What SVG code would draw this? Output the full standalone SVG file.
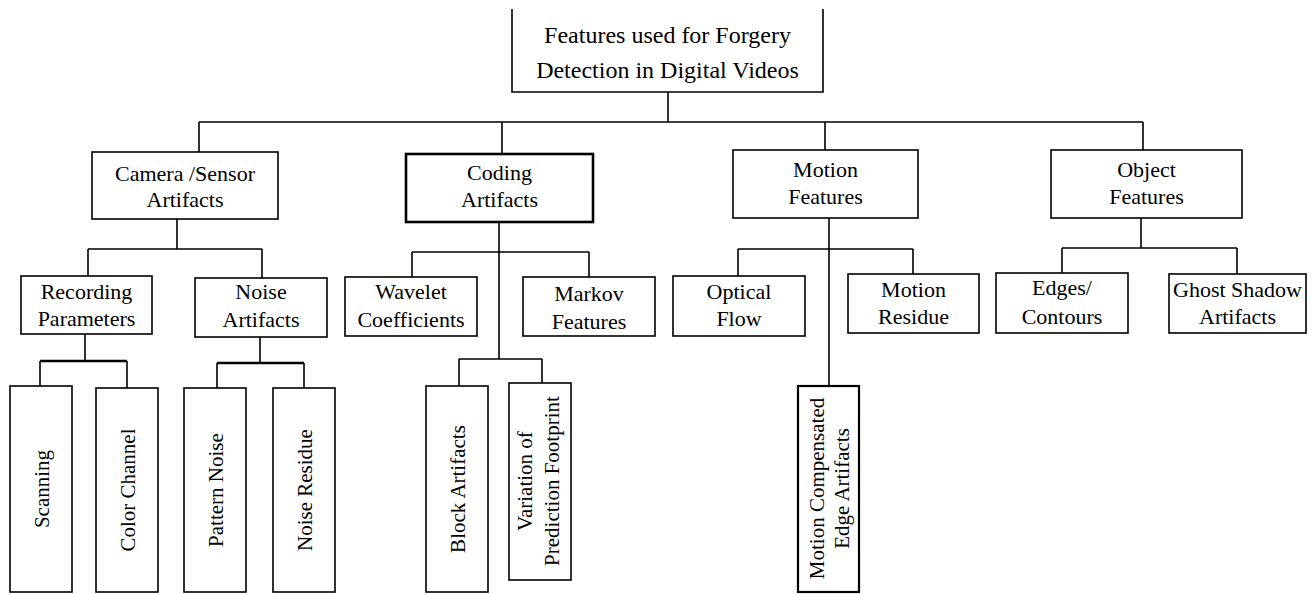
<svg xmlns="http://www.w3.org/2000/svg" width="1314" height="594" viewBox="0 0 1314 594">
<style>
.bx{fill:#fff;stroke:#000;stroke-width:1.6}
.bt{fill:#fff;stroke:#000;stroke-width:2.6}
.t{font-family:"Liberation Serif","Times New Roman",serif;font-size:22px;fill:#000;text-anchor:middle}
.tr{font-family:"Liberation Serif","Times New Roman",serif;font-size:24px;fill:#000;text-anchor:middle}
.tv{font-family:"Liberation Serif","Times New Roman",serif;font-size:21px;fill:#000;text-anchor:middle}
.c{fill:none;stroke:#000;stroke-width:1.6}
.ck{fill:none;stroke:#000;stroke-width:2.6}
</style>
<rect width="1314" height="594" fill="#fff"/>
<g id="connectors">
<path class="c" d="M668,92 V122 M199,122 H1143 M199,122 V152 M502,122 V154 M825,122 V150 M1143,122 V150"/>
<path class="c" d="M177,219 V249 M88,249 H262 M88,249 V276 M262,249 V278"/>
<path class="c" d="M85,334 V361 M40,361 V386 M127,361 V388"/>
<path class="ck" d="M40,361 H127"/>
<path class="c" d="M260,337 V363 M217,363 V388 M304,363 V388"/>
<path class="ck" d="M217,363 H304"/>
<path class="c" d="M499,222 V359 M412,252 H589 M412,252 V277 M589,252 V277 M459,359 H542 M459,359 V386 M542,359 V383"/>
<path class="c" d="M829,218 V386 M738,249 H913 M738,249 V276 M913,249 V274"/>
<path class="c" d="M1141,218 V248 M1062,248 H1237 M1062,248 V273 M1237,248 V274"/>
</g>
<g id="root">
<path class="bx" d="M512,9 V92 H823 V9"/>
<text class="tr" x="667.5" y="43">Features used for Forgery</text>
<text class="tr" x="667.5" y="78">Detection in Digital Videos</text>
</g>
<g id="camera">
<rect class="bx" x="92" y="152" width="186" height="67"/>
<text class="t" x="185" y="181">Camera /Sensor</text>
<text class="t" x="185" y="207">Artifacts</text>
</g>
<g id="coding">
<rect class="bt" x="406" y="154" width="187" height="68"/>
<text class="t" x="499.5" y="180">Coding</text>
<text class="t" x="499.5" y="207">Artifacts</text>
</g>
<g id="motion">
<rect class="bx" x="733" y="150" width="185" height="68"/>
<text class="t" x="825.5" y="177">Motion</text>
<text class="t" x="825.5" y="204">Features</text>
</g>
<g id="object">
<rect class="bx" x="1051" y="150" width="191" height="68"/>
<text class="t" x="1146.5" y="177">Object</text>
<text class="t" x="1146.5" y="204">Features</text>
</g>
<g id="recording">
<rect class="bx" x="21" y="276" width="131" height="58"/>
<text class="t" x="86.5" y="299">Recording</text>
<text class="t" x="86.5" y="326">Parameters</text>
</g>
<g id="noise-artifacts">
<rect class="bx" x="195" y="278" width="132" height="59"/>
<text class="t" x="261" y="299">Noise</text>
<text class="t" x="261" y="327">Artifacts</text>
</g>
<g id="wavelet">
<rect class="bx" x="345" y="277" width="132" height="59"/>
<text class="t" x="411" y="299">Wavelet</text>
<text class="t" x="411" y="327">Coefficients</text>
</g>
<g id="markov">
<rect class="bx" x="523" y="277" width="132" height="59"/>
<text class="t" x="589" y="301">Markov</text>
<text class="t" x="589" y="329">Features</text>
</g>
<g id="optical-flow">
<rect class="bx" x="673" y="276" width="132" height="60"/>
<text class="t" x="739" y="299">Optical</text>
<text class="t" x="739" y="326">Flow</text>
</g>
<g id="motion-residue">
<rect class="bx" x="848" y="274" width="131" height="59"/>
<text class="t" x="913.5" y="297">Motion</text>
<text class="t" x="913.5" y="324">Residue</text>
</g>
<g id="edges">
<rect class="bx" x="996" y="273" width="132" height="60"/>
<text class="t" x="1062" y="295">Edges/</text>
<text class="t" x="1062" y="324">Contours</text>
</g>
<g id="ghost">
<rect class="bx" x="1169" y="274" width="137" height="59"/>
<text class="t" x="1237.5" y="297">Ghost Shadow</text>
<text class="t" x="1237.5" y="324">Artifacts</text>
</g>
<g id="scanning">
<rect class="bx" x="10" y="386" width="62" height="206"/>
<text class="tv" x="41" y="496.5" transform="rotate(-90 41 489)">Scanning</text>
</g>
<g id="color-channel">
<rect class="bx" x="96" y="388" width="62" height="204"/>
<text class="tv" x="127" y="497.5" transform="rotate(-90 127 490)">Color Channel</text>
</g>
<g id="pattern-noise">
<rect class="bx" x="184" y="388" width="62" height="204"/>
<text class="tv" x="215" y="497.5" transform="rotate(-90 215 490)">Pattern Noise</text>
</g>
<g id="noise-residue">
<rect class="bx" x="273" y="388" width="62" height="204"/>
<text class="tv" x="304" y="497.5" transform="rotate(-90 304 490)">Noise Residue</text>
</g>
<g id="block-artifacts">
<rect class="bx" x="426" y="386" width="62" height="206"/>
<text class="tv" x="457" y="496.5" transform="rotate(-90 457 489)">Block Artifacts</text>
</g>
<g id="variation">
<rect class="bx" x="509" y="383" width="62" height="197"/>
<text class="tv" x="524" y="488.5" transform="rotate(-90 524 481)">Variation of</text>
<text class="tv" x="551" y="488.5" transform="rotate(-90 551 481)">Prediction Footprint</text>
</g>
<g id="mcea">
<rect class="bx" x="798" y="386" width="61" height="206" style="stroke-width:2.2"/>
<text class="tv" x="816" y="496" transform="rotate(-90 816 488.5)">Motion Compensated</text>
<text class="tv" x="841" y="496" transform="rotate(-90 841 488.5)">Edge Artifacts</text>
</g>
</svg>
